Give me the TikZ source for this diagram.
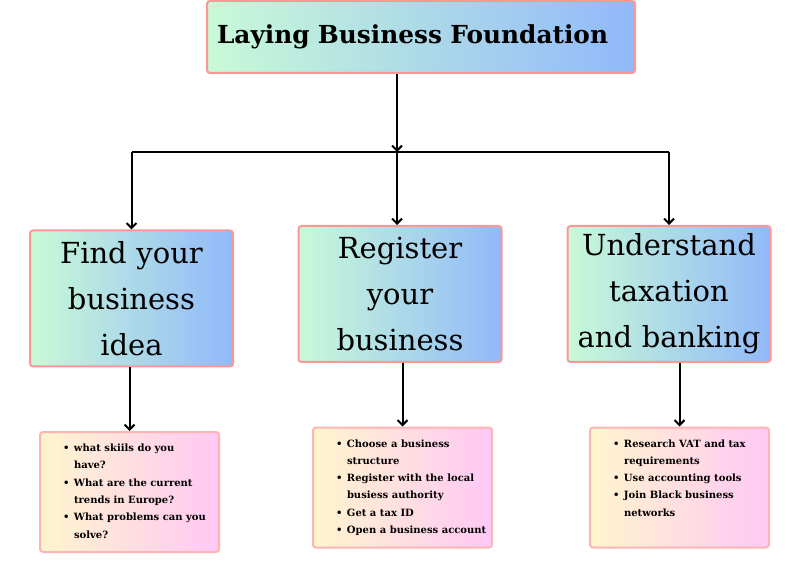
\documentclass[tikz,border=0pt]{standalone}
\usepackage{fontspec}
\setmainfont{DejaVu Serif}
\usepackage{xcolor}
\usepackage{tikz}
\usetikzlibrary{arrows.meta}

\definecolor{greenL}{RGB}{200,250,215}
\definecolor{blueR}{RGB}{145,185,250}
\definecolor{yellowL}{RGB}{255,245,205}
\definecolor{pinkR}{RGB}{255,200,245}
\definecolor{redline}{RGB}{255,150,150}
\definecolor{pinkline}{RGB}{255,180,180}

\newcommand{\bitem}[1]{\par\noindent\hangindent=32pt\hangafter=1\hspace*{21pt}\makebox[11pt][l]{\textbullet}#1}
\newcommand{\tipbox}[1]{\begin{minipage}[c][120pt][t]{175pt}\raggedright\vspace*{12pt}#1\end{minipage}}

\begin{document}
\begin{tikzpicture}[x=1pt,y=-1pt,
    topbox/.style={draw=redline,line width=2pt,rounded corners=3pt,left color=greenL,right color=blueR,
      minimum width=428,minimum height=72,inner xsep=10pt,text width=408pt,align=left,
      font=\bfseries\fontsize{24.8}{28}\selectfont},
    stagebox/.style={draw=redline,line width=2pt,rounded corners=3pt,left color=greenL,right color=blueR,
      minimum width=203,minimum height=136,inner sep=0pt,text width=196pt,align=center,
      font=\fontsize{29}{46}\selectfont},
    notebox/.style={draw=pinkline,line width=2pt,rounded corners=3pt,left color=yellowL,right color=pinkR,
      minimum width=179,inner sep=0pt,font=\bfseries\fontsize{10}{17.3}\selectfont},
    conn/.style={line width=2pt,black,-{Straight Barb[length=5pt,width=10pt]}},
    bar/.style={line width=2pt,black}]
  \useasboundingbox (0,0) rectangle (793,561);

  \node[topbox] (T) at (421,37) {Laying Business Foundation};

  \node[stagebox] (M1) at (131.5,298.5) {Find your\\business\\idea};
  \node[stagebox] (M2) at (400,294) {Register\\your\\business};
  \node[stagebox] (M3) at (669,294) {Understand\\taxation\\and banking};

  \node[notebox] (S1) at (129.5,492) {\tipbox{%
    \bitem{what skiils do you\newline have?}
    \bitem{What are the current\newline trends in Europe?}
    \bitem{What problems can you\newline solve?}}};
  \node[notebox] (S2) at (402.5,487.5) {\tipbox{%
    \bitem{Choose a business\newline structure}
    \bitem{Register with the local\newline busiess authority}
    \bitem{Get a tax ID}
    \bitem{Open a business account}}};
  \node[notebox] (S3) at (679.5,487.5) {\tipbox{%
    \bitem{Research VAT and tax\newline requirements}
    \bitem{Use accounting tools}
    \bitem{Join Black business\newline networks}}};

  \coordinate (jm) at (397,152);

  \draw[conn] (jm |- T.south) -- (jm);
  \draw[bar] (M1.north |- jm) -- (M3.north |- jm);
  \draw[conn] (M1.north |- jm) -- (M1.north);
  \draw[conn] (jm) -- (jm |- M2.north);
  \draw[conn] (M3.north |- jm) -- (M3.north);

  \draw[conn] (S1.north |- M1.south) -- (S1.north);
  \draw[conn] (S2.north |- M2.south) -- (S2.north);
  \draw[conn] (S3.north |- M3.south) -- (S3.north);
\end{tikzpicture}
\end{document}
